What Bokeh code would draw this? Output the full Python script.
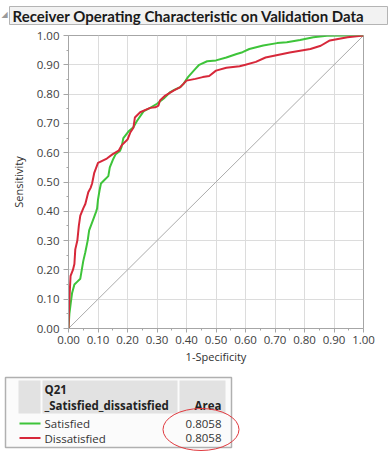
from bokeh.plotting import figure
from bokeh.layouts import column
from bokeh.models import Range1d, FixedTicker, PrintfTickFormatter
from bokeh.core.properties import value
from bokeh.embed import file_html
from bokeh.resources import INLINE

# ---- data ----
fpr_satisfied = [0, 0.003, 0.008, 0.012, 0.02, 0.03, 0.04, 0.045, 0.05, 0.057, 0.065, 0.07, 0.083,
                 0.094, 0.097, 0.1, 0.105, 0.11, 0.12, 0.135, 0.14, 0.15, 0.16, 0.175, 0.18, 0.186,
                 0.203, 0.22, 0.232, 0.255, 0.277, 0.3, 0.323, 0.345, 0.36, 0.379, 0.39, 0.405, 0.43,
                 0.443, 0.47, 0.5, 0.535, 0.57, 0.59, 0.613, 0.66, 0.707, 0.74, 0.785, 0.83, 0.876,
                 0.95, 1.0]
tpr_satisfied = [0, 0.05, 0.09, 0.12, 0.15, 0.16, 0.17, 0.2, 0.23, 0.26, 0.30, 0.335, 0.37,
                 0.40, 0.41, 0.44, 0.47, 0.495, 0.505, 0.52, 0.55, 0.575, 0.595, 0.607, 0.62, 0.65,
                 0.672, 0.687, 0.708, 0.742, 0.753, 0.767, 0.785, 0.807, 0.815, 0.824, 0.835, 0.858,
                 0.886, 0.9, 0.912, 0.915, 0.925, 0.937, 0.943, 0.954, 0.966, 0.974, 0.977, 0.985,
                 0.994, 0.999, 1.0, 1.0]
fpr_dissatisfied = [0, 0.002, 0.004, 0.007, 0.015, 0.02, 0.023, 0.03, 0.035, 0.04, 0.05, 0.057,
                    0.067, 0.075, 0.08, 0.087, 0.10, 0.13, 0.15, 0.17, 0.18, 0.2, 0.21, 0.22, 0.225,
                    0.243, 0.265, 0.277, 0.294, 0.305, 0.31, 0.328, 0.356, 0.379, 0.40, 0.43, 0.455,
                    0.477, 0.5, 0.535, 0.58, 0.6, 0.635, 0.668, 0.75, 0.82, 0.855, 0.886, 0.946, 1.0]
tpr_dissatisfied = [0, 0.08, 0.12, 0.18, 0.2, 0.22, 0.27, 0.30, 0.35, 0.385, 0.41, 0.425,
                    0.465, 0.48, 0.495, 0.53, 0.565, 0.58, 0.595, 0.607, 0.625, 0.645, 0.67, 0.685,
                    0.72, 0.738, 0.748, 0.753, 0.755, 0.761, 0.778, 0.795, 0.812, 0.824, 0.846, 0.852,
                    0.858, 0.862, 0.88, 0.89, 0.895, 0.9, 0.91, 0.925, 0.942, 0.954, 0.965, 0.983,
                    0.994, 1.0]
diag = [0, 1]
series_names = ["Satisfied", "Dissatisfied"]
series_area = ["0.8058", "0.8058"]
series_colors = ["#3ec43a", "#d7283a"]
major_ticks = [0.0, 0.1, 0.2, 0.3, 0.4, 0.5, 0.6, 0.7, 0.8, 0.9, 1.0]
minor_ticks = [0.05, 0.15, 0.25, 0.35, 0.45, 0.55, 0.65, 0.75, 0.85, 0.95]
title_text = "Receiver Operating Characteristic on Validation Data"
legend_header = ["Q21", "_Satisfied_dissatisfied", "Area"]

W = 391
FONT = "Open Sans"
TITLE_H = 25
LEG_H = 84
MAIN_H = 456 - TITLE_H - LEG_H


def pixel_fig(h):
    f = figure(width=W, height=h, output_backend="svg", toolbar_location=None,
               x_range=Range1d(0, W), y_range=Range1d(h, 0),
               x_axis_type=None, y_axis_type=None, frame_align=False,
               min_border=0, min_border_left=0, min_border_right=0,
               min_border_top=0, min_border_bottom=0,
               background_fill_color="white", border_fill_color="white")
    f.outline_line_color = None
    f.grid.visible = False
    return f


# ---- title strip ----
t = pixel_fig(TITLE_H)
t.quad(left=[9], right=[387], top=[6], bottom=[24], fill_color="#f2f2f2",
       line_color="#b4b4b4", line_width=1)
t.text(x=[1], y=[14], text=["\u25e2"], text_font=value("DejaVu Sans"),
       text_font_size="8px", text_color="#9a9a9a", text_baseline="middle")
t.text(x=[12], y=[15], text=[title_text], text_font=value("Lato"),
       text_font_style="bold", text_font_size="15px", text_color="#1a1a1a",
       text_baseline="middle")

# ---- main ROC plot, frame at page x 68..363, y 35..328 ----
FL, FR, FT, FB = 68, 363, 35 - TITLE_H, 328 - TITLE_H
p = figure(width=W, height=MAIN_H, output_backend="svg", toolbar_location=None,
           x_range=Range1d(0, 1), y_range=Range1d(0, 1), frame_align=False,
           min_border_left=FL, min_border_right=W - FR,
           min_border_top=FT, min_border_bottom=MAIN_H - FB,
           background_fill_color="white", border_fill_color="white")
p.outline_line_color = "#a6a6a6"

for ax in (p.xaxis[0], p.yaxis[0]):
    ax.ticker = FixedTicker(ticks=major_ticks, minor_ticks=minor_ticks)
    ax.formatter = PrintfTickFormatter(format="%.2f")
    ax.axis_line_color = "#a6a6a6"
    ax.major_tick_line_color = "#a6a6a6"
    ax.minor_tick_line_color = "#a6a6a6"
    ax.major_tick_in = 0
    ax.minor_tick_in = 0
    ax.major_label_text_font = FONT
    ax.major_label_text_font_size = "11.5px"
    ax.major_label_text_color = "#404040"
    ax.axis_label_text_font = FONT
    ax.axis_label_text_font_style = "normal"
    ax.axis_label_text_color = "#303030"
    ax.axis_label_text_font_size = "11px"

p.xaxis.axis_label = "1-Specificity"
p.yaxis.axis_label = "Sensitivity"
p.xaxis.major_tick_out = 4
p.xaxis.minor_tick_out = 2
p.yaxis.major_tick_out = 5
p.yaxis.minor_tick_out = 2
p.xaxis.major_label_standoff = 3
p.yaxis.major_label_standoff = 4
p.xaxis.axis_label_standoff = 2
p.yaxis.axis_label_standoff = 8

p.xgrid.ticker = FixedTicker(ticks=major_ticks)
p.ygrid.ticker = FixedTicker(ticks=major_ticks)
p.grid.grid_line_color = "#dcdcdc"
p.grid.grid_line_width = 1

p.line(diag, diag, line_color="#ababab", line_width=1)
p.line(fpr_satisfied, tpr_satisfied, line_color=series_colors[0], line_width=2)
p.line(fpr_dissatisfied, tpr_dissatisfied, line_color=series_colors[1], line_width=2)

# ---- legend table ----
OY = 456 - LEG_H  # page y of this strip's top
lg = pixel_fig(LEG_H)
lg.quad(left=[5], right=[231], top=[377 - OY], bottom=[447 - OY], fill_color="#fbfbfb",
        line_color="#b0b0b0", line_width=1.5)
lg.quad(left=[18, 42, 179], right=[40, 177, 225], top=[380 - OY] * 3, bottom=[413 - OY] * 3,
        fill_color="#e2e2e2", line_color=None)
lg.text(x=[44, 44], y=[389 - OY, 405 - OY], text=legend_header[:2], text_font=value(FONT),
        text_font_style="bold", text_font_size="11.5px", text_color="#222222",
        text_baseline="middle")
lg.text(x=[221], y=[405 - OY], text=legend_header[2:], text_font=value(FONT),
        text_font_style="bold", text_font_size="11.5px", text_color="#222222",
        text_baseline="middle", text_align="right")
row_y = [423 - OY, 437.5 - OY]
lg.segment(x0=[19, 19], y0=row_y, x1=[40, 40], y1=row_y, line_color=series_colors, line_width=2)
lg.text(x=[44, 44], y=row_y, text=series_names, text_font=value(FONT),
        text_font_size="11.5px", text_color="#333333", text_baseline="middle")
lg.text(x=[221, 221], y=row_y, text=series_area, text_font=value(FONT),
        text_font_size="11.5px", text_color="#333333", text_baseline="middle",
        text_align="right")
# red hand-drawn circle around the area values
lg.ellipse(x=[200.5], y=[429 - OY], width=[76], height=[42], fill_color=None,
           line_color="#e0393e", line_width=1)

layout = column(t, p, lg, spacing=0)
open("out.html", "w").write(file_html(layout, INLINE))
